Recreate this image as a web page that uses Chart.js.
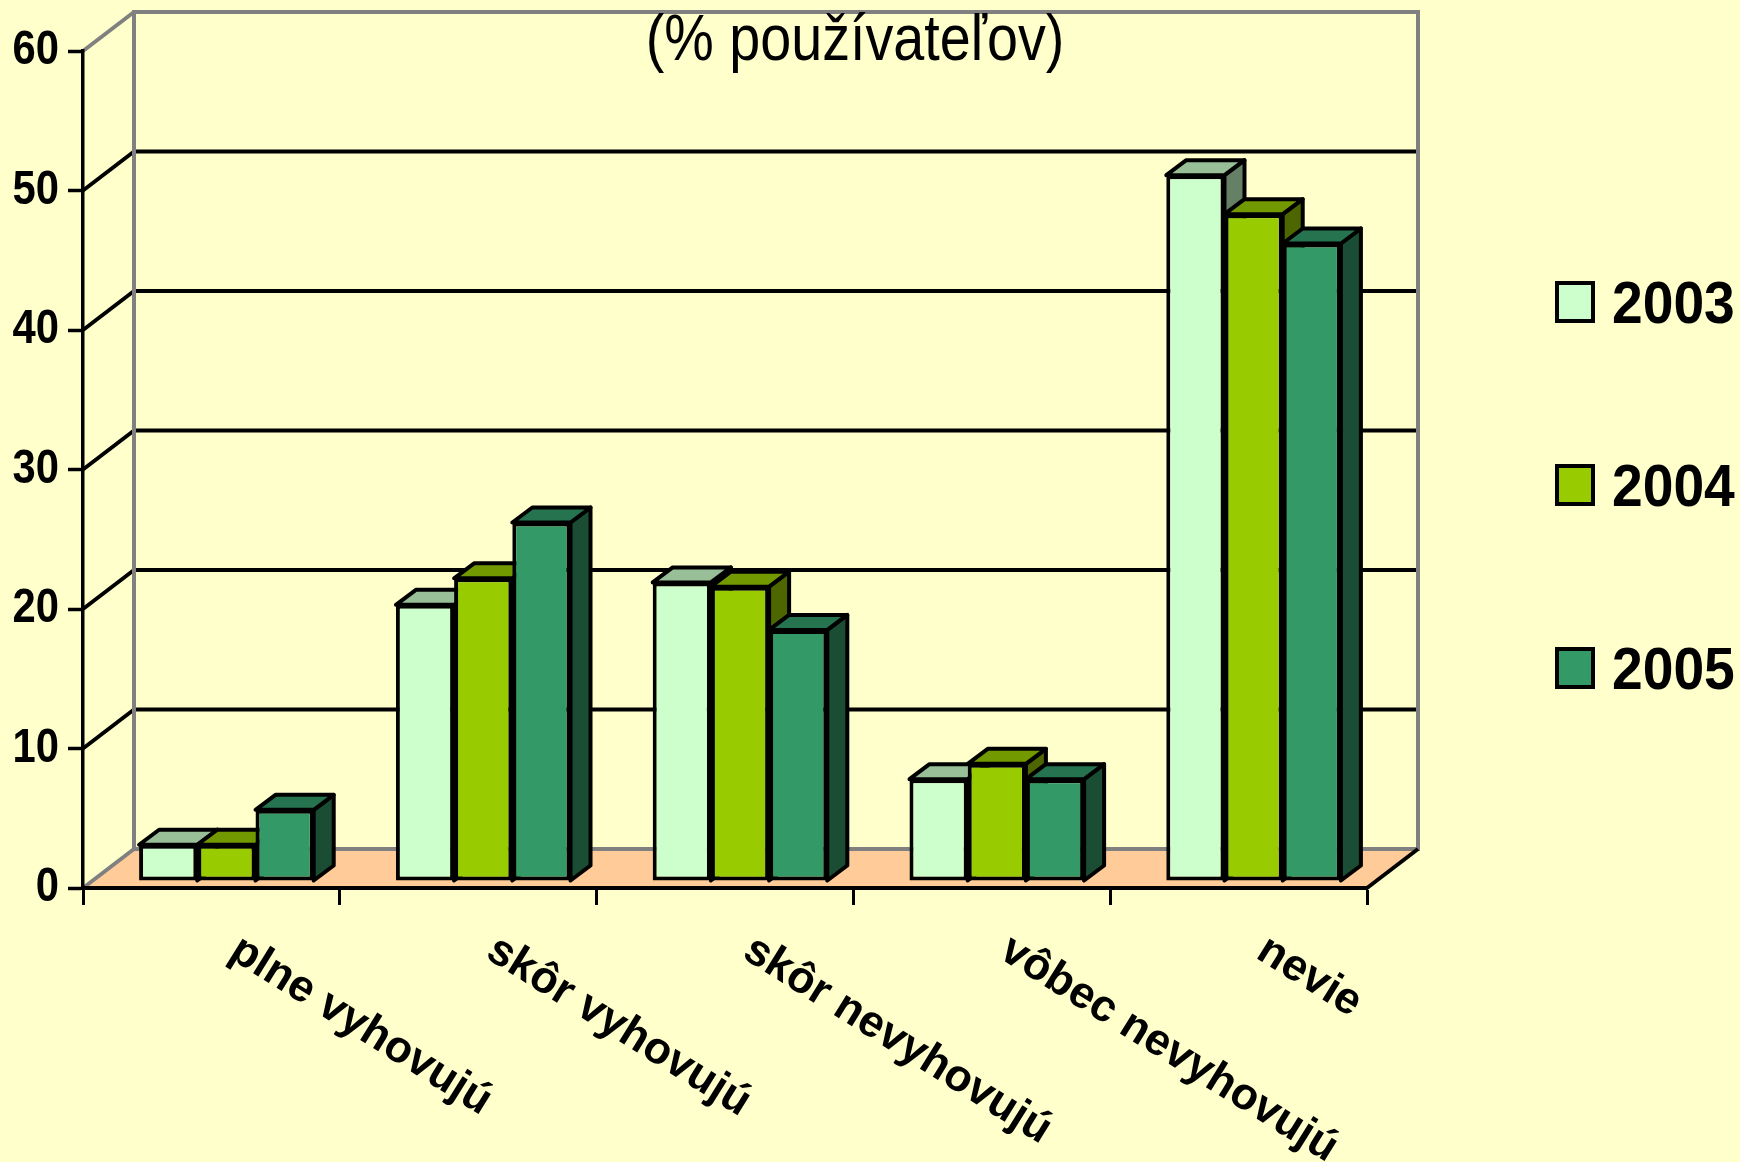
<!DOCTYPE html>
<html>
<head>
<meta charset="utf-8">
<title>% používateľov</title>
<script src="https://cdn.jsdelivr.net/npm/chart.js@4/dist/chart.umd.min.js"></script>
<style>
    html, body { margin: 0; padding: 0; background: #FFFFCC; }
    canvas { display: block; }
</style>
</head>
<body>
<canvas id="chart" width="1740" height="1162"></canvas>
<script>
// Data
const categories = ['plne vyhovujú', 'skôr vyhovujú', 'skôr nevyhovujú', 'vôbec nevyhovujú', 'nevie'];
const years = ['2003', '2004', '2005'];
const values2003 = [2.6, 19.8, 21.4, 7.3, 50.6];
const values2004 = [2.6, 21.7, 21.1, 8.4, 47.8];
const values2005 = [5.1, 25.7, 18.0, 7.3, 45.7];
const yTicks = [0, 10, 20, 30, 40, 50, 60];
const titleText = '(% používateľov)';

const frontColors = ['#CCFFCC', '#99CC00', '#339966'];
const topColors = ['#99BF99', '#739900', '#267350'];
const sideColors = ['#668066', '#4D6600', '#1A4D33'];

// 3D look: the wall sits behind the axes, the bars stand between them
const WALL_DX = 51, WALL_DY = 39;
const BAR_SHIFT_X = 15, BAR_SHIFT_Y = 7;
const BAR_DX = 20, BAR_DY = 15;
const LINE = 4;

function line(ctx, x1, y1, x2, y2, color, width) {
    ctx.strokeStyle = color;
    ctx.lineWidth = width;
    ctx.beginPath();
    ctx.moveTo(x1, y1);
    ctx.lineTo(x2, y2);
    ctx.stroke();
}

function face(ctx, points, color) {
    ctx.fillStyle = color;
    ctx.strokeStyle = '#000';
    ctx.lineWidth = LINE;
    ctx.lineJoin = 'round';
    ctx.beginPath();
    points.forEach((p, i) => i ? ctx.lineTo(p[0], p[1]) : ctx.moveTo(p[0], p[1]));
    ctx.closePath();
    ctx.fill();
    ctx.stroke();
}

// The reference text is a bit narrower than Liberation Sans, so squeeze it
function squeezedText(ctx, text, x, y, squeeze) {
    ctx.save();
    ctx.translate(x, y);
    ctx.scale(squeeze, 1);
    ctx.fillText(text, 0, 0);
    ctx.restore();
}

const box3d = {
    id: 'box3d',
    // floor and back wall
    beforeDraw(chart) {
        const { ctx, scales: { y }, chartArea: a } = chart;
        const y0 = y.getPixelForValue(0);
        const yMax = y.getPixelForValue(60);
        ctx.save();
        ctx.fillStyle = '#FFCC99';
        ctx.beginPath();
        ctx.moveTo(a.left, y0);
        ctx.lineTo(a.left + WALL_DX, y0 - WALL_DY);
        ctx.lineTo(a.right + WALL_DX, y0 - WALL_DY);
        ctx.lineTo(a.right, y0);
        ctx.closePath();
        ctx.fill();

        yTicks.slice(1, -1).forEach(v => {
            const py = y.getPixelForValue(v);
            line(ctx, a.left, py, a.left + WALL_DX, py - WALL_DY, '#000', 4);
            line(ctx, a.left + WALL_DX, py - WALL_DY, a.right + WALL_DX, py - WALL_DY, '#000', 4);
        });

        const gray = '#808080';
        ctx.lineJoin = 'miter';
        line(ctx, a.left, y0, a.left + WALL_DX, y0 - WALL_DY, gray, 4);
        line(ctx, a.left, yMax, a.left + WALL_DX, yMax - WALL_DY, gray, 4);
        ctx.strokeStyle = gray;
        ctx.lineWidth = 4;
        ctx.beginPath();
        ctx.rect(a.left + WALL_DX, yMax - WALL_DY, a.right - a.left, y0 - yMax);
        ctx.stroke();
        line(ctx, a.right, y0, a.right + WALL_DX, y0 - WALL_DY, '#000', 4);
        ctx.restore();
    },
    // draw the series front to back in legend order: side and top first, then
    // the library's own front face, so the next series covers this one's side
    beforeDatasetsDraw(chart) {
        const ctx = chart.ctx;
        ctx.save();
        ctx.translate(BAR_SHIFT_X, -BAR_SHIFT_Y);
        chart.data.datasets.forEach((ds, i) => {
            const meta = chart.getDatasetMeta(i);
            meta.data.forEach(bar => {
                const left = bar.x - bar.width / 2;
                const right = bar.x + bar.width / 2;
                face(ctx, [[right, bar.y], [right + BAR_DX, bar.y - BAR_DY], [right + BAR_DX, bar.base - BAR_DY], [right, bar.base]], sideColors[i]);
                face(ctx, [[left, bar.y], [left + BAR_DX, bar.y - BAR_DY], [right + BAR_DX, bar.y - BAR_DY], [right, bar.y]], topColors[i]);
            });
            meta.controller.draw();
        });
        ctx.restore();
        return false;
    },
    // y labels, title, slanted category labels and legend
    afterDraw(chart) {
        const { ctx, scales: { x, y } } = chart;
        ctx.save();
        ctx.fillStyle = '#000';

        ctx.font = 'bold 48px "Liberation Sans"';
        ctx.textAlign = 'right';
        ctx.textBaseline = 'middle';
        yTicks.forEach(v => squeezedText(ctx, String(v), 59, y.getPixelForValue(v), 0.87));

        ctx.textBaseline = 'alphabetic';
        ctx.font = '64px "Liberation Sans"';
        ctx.textAlign = 'center';
        squeezedText(ctx, titleText, 855, 60, 0.87);

        ctx.font = 'bold 44.5px "Liberation Sans"';
        ctx.textAlign = 'left';
        categories.forEach((label, i) => {
            ctx.save();
            ctx.translate(x.getPixelForValue(i) + 16, 957);
            ctx.rotate(32 * Math.PI / 180);
            ctx.fillText(label, 0, 0);
            ctx.restore();
        });

        ctx.font = 'bold 60px "Liberation Sans"';
        ctx.textBaseline = 'middle';
        years.forEach((year, i) => {
            const cy = 302 + i * 183;
            ctx.fillStyle = frontColors[i];
            ctx.strokeStyle = '#000';
            ctx.lineWidth = LINE;
            ctx.fillRect(1557, cy - 19, 36, 38);
            ctx.strokeRect(1557, cy - 19, 36, 38);
            ctx.fillStyle = '#000';
            squeezedText(ctx, year, 1612, cy + 4, 0.92);
        });
        ctx.restore();
    }
};

new Chart(document.getElementById('chart'), {
    type: 'bar',
    data: {
        labels: categories,
        datasets: [values2003, values2004, values2005].map((data, i) => ({
            label: years[i],
            data,
            backgroundColor: frontColors[i],
            borderColor: '#000',
            borderWidth: LINE,
            borderSkipped: false,
            categoryPercentage: 0.68,
            barPercentage: 1
        }))
    },
    options: {
        responsive: false,
        animation: false,
        layout: { padding: { top: 51, right: 373, left: 0, bottom: 0 } },
        plugins: {
            legend: { display: false },
            title: { display: false },
            tooltip: { enabled: false }
        },
        scales: {
            x: {
                afterFit: scale => { scale.height = 274; },
                grid: { drawOnChartArea: false, color: '#000', tickLength: 17, tickWidth: 3 },
                border: { color: '#000', width: 4 },
                ticks: { display: false }
            },
            y: {
                min: 0,
                max: 60,
                afterFit: scale => { scale.width = 83; },
                afterBuildTicks: scale => { scale.ticks = yTicks.map(value => ({ value })); },
                grid: { drawOnChartArea: false, color: '#000', tickLength: 15, tickWidth: 3.5 },
                border: { color: '#000', width: 3.5 },
                ticks: { display: false }
            }
        }
    },
    plugins: [box3d]
});
</script>
</body>
</html>
